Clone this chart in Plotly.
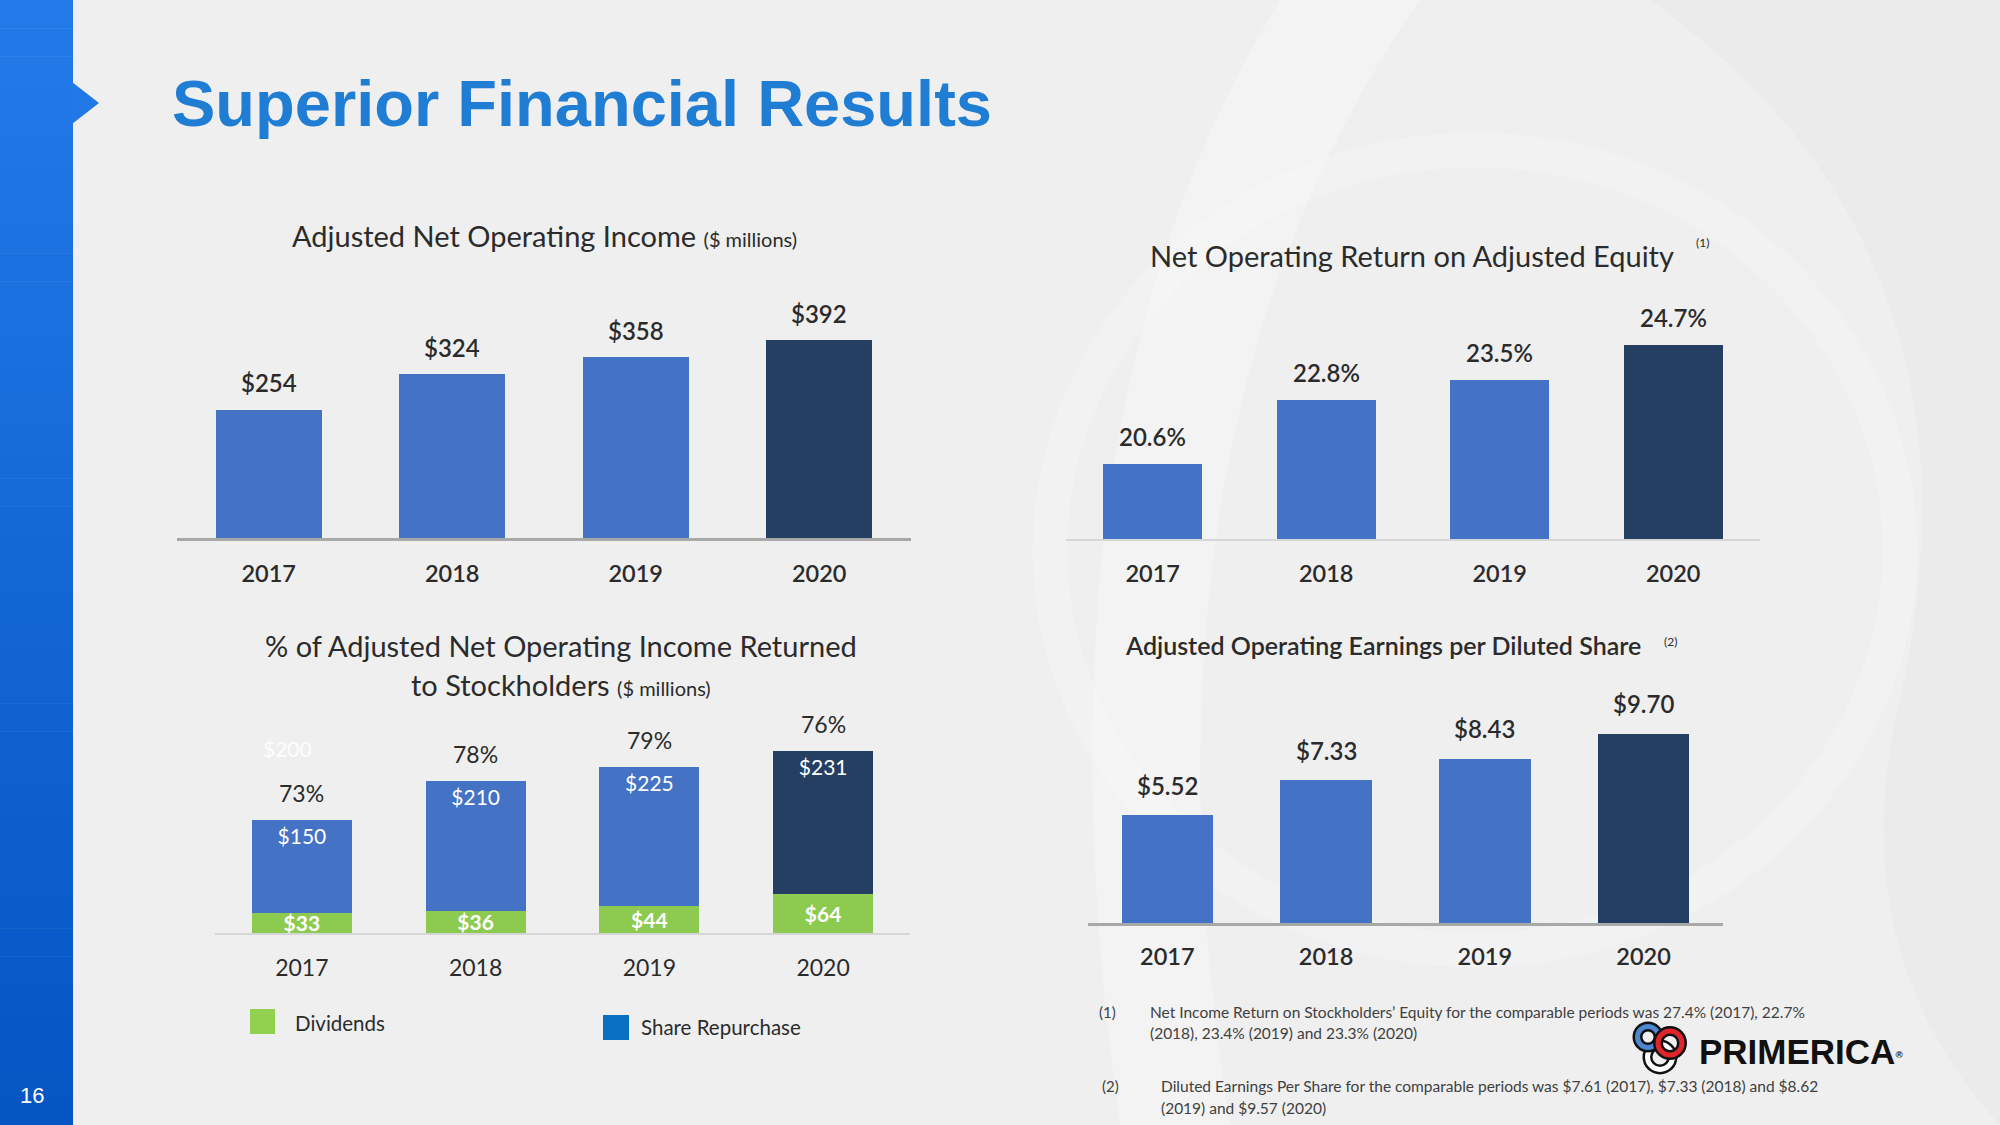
import plotly.graph_objects as go

# ---------------- data ----------------
years = ["2017", "2018", "2019", "2020"]
net_income = [254, 324, 358, 392]                 # $ millions
roe = [20.6, 22.8, 23.5, 24.7]                     # %
dividends = [33, 36, 44, 64]                       # $ millions
repurchase = [150, 210, 225, 231]                  # $ millions
pct_returned = [73, 78, 79, 76]                    # %
eps = [5.52, 7.33, 8.43, 9.70]                     # $

net_income_labels = [f"${v}" for v in net_income]
roe_labels = [f"{v:.1f}%" for v in roe]
dividend_labels = [f"${v}" for v in dividends]
repurchase_labels = [f"${v}" for v in repurchase]
pct_labels = [f"{v}%" for v in pct_returned]
eps_labels = [f"${v:.2f}" for v in eps]

# ---------------- style ----------------
W, H = 2000, 1125
BLUE = "#4472C4"
DARK = "#253F62"
GREEN = "#8DCB50"
LEG_BLUE = "#0A70C2"
BG = "#EFEFEF"
TXT = "#2B2B2B"
LATO = "Lato, Carlito, 'Open Sans', sans-serif"
ARIAL = "'Liberation Sans', Arial, sans-serif"
bar_colors = [BLUE, BLUE, BLUE, DARK]


def px(x):
    return x / W


def py(y):
    return 1 - y / H


fig = go.Figure()

# chart 1: Adjusted Net Operating Income
fig.add_trace(go.Bar(x=years, y=net_income, marker=dict(color=bar_colors, line=dict(width=0)),
                     width=0.578, xaxis="x", yaxis="y", showlegend=False, hoverinfo="skip"))
# chart 2: Net Operating Return on Adjusted Equity
fig.add_trace(go.Bar(x=years, y=roe, marker=dict(color=bar_colors, line=dict(width=0)),
                     width=0.57, xaxis="x2", yaxis="y2", showlegend=False, hoverinfo="skip"))
# chart 3: returned to stockholders (stacked)
fig.add_trace(go.Bar(x=years, y=dividends, marker=dict(color=GREEN, line=dict(width=0)),
                     width=0.576, xaxis="x3", yaxis="y3", showlegend=False, hoverinfo="skip",
                     text=dividend_labels, textposition="inside", insidetextanchor="middle",
                     constraintext="none",
                     textfont=dict(family=LATO, size=21, color="white", weight=700)))
fig.add_trace(go.Bar(x=years, y=repurchase, marker=dict(color=bar_colors, line=dict(width=0)),
                     width=0.576, xaxis="x3", yaxis="y3", showlegend=False, hoverinfo="skip",
                     text=repurchase_labels, textposition="inside", insidetextanchor="end",
                     constraintext="none",
                     textfont=dict(family=LATO, size=21, color="white")))
# chart 4: EPS
fig.add_trace(go.Bar(x=years, y=eps, marker=dict(color=bar_colors, line=dict(width=0)),
                     width=0.575, xaxis="x4", yaxis="y4", showlegend=False, hoverinfo="skip"))

annotations = []


def value_labels(xref, yref, values, labels, shift, size, weight):
    for i, (v, t) in enumerate(zip(values, labels)):
        annotations.append(dict(x=i, y=v, xref=xref, yref=yref, text=t, showarrow=False,
                                yshift=shift, yanchor="middle",
                                font=dict(family=LATO, size=size, color=TXT, weight=weight)))


value_labels("x", "y", net_income, net_income_labels, 27, 24, 600)
value_labels("x2", "y2", roe, roe_labels, 27, 24, 600)
totals = [d + r for d, r in zip(dividends, repurchase)]
value_labels("x3", "y3", totals, pct_labels, 27, 23, 400)
value_labels("x4", "y4", eps, eps_labels, 30, 24, 600)


def text(x, y, t, size, color=TXT, family=LATO, weight=400, xanchor="center"):
    annotations.append(dict(x=px(x), y=py(y), xref="paper", yref="paper", text=t,
                            showarrow=False, xanchor=xanchor, yanchor="middle",
                            font=dict(family=family, size=size, color=color, weight=weight)))


# main title
text(170, 103, "Superior Financial Results", 65, color="#1F7DD4", family=ARIAL,
     weight=700, xanchor="left")
# chart titles
text(544, 235, "Adjusted Net Operating Income <span style='font-size:20px'>($ millions)</span>", 29)
text(1412, 255, "Net Operating Return on Adjusted Equity", 29)
text(1702, 243, "(1)", 12)
text(561, 645, "% of Adjusted Net Operating Income Returned", 29)
text(561, 684, "to Stockholders <span style='font-size:20px'>($ millions)</span>", 29)
text(1383, 645, "Adjusted Operating Earnings per Diluted Share", 25, weight=600)
text(1670, 641, "(2)", 12)
# stray faint label
text(287, 748, "$200", 21, color="rgba(255,255,255,0.9)")
# legend
text(293, 1023, "Dividends", 20.5, xanchor="left")
text(639, 1027, "Share Repurchase", 20.5, xanchor="left")
# footnotes
FN = "#404040"
text(1107, 1012, "(1)", 15, color=FN)
text(1148, 1012, "Net Income Return on Stockholders’ Equity for the comparable periods was 27.4% (2017), 22.7%",
     15.5, color=FN, xanchor="left")
text(1148, 1033, "(2018), 23.4% (2019) and 23.3% (2020)", 15.5, color=FN, xanchor="left")
text(1110, 1086, "(2)", 15, color=FN)
text(1159, 1086, "Diluted Earnings Per Share for the comparable periods was $7.61 (2017), $7.33 (2018) and $8.62",
     15.5, color=FN, xanchor="left")
text(1159, 1108, "(2019) and $9.57 (2020)", 15.5, color=FN, xanchor="left")
# logo text
text(1697, 1051, "PRIMERICA<span style='font-size:14px'><sup>®</sup></span>", 35,
     color="#111111", family=ARIAL, weight=700, xanchor="left")
# page number
text(32, 1095, "16", 22, color="white", family=ARIAL)

# ---------------- shapes ----------------
shapes = []
# faint background swooshes
shapes.append(dict(type="path", xref="paper", yref="paper", layer="below",
                   path=f"M {px(1280)} {py(0)} Q {px(1020)} {py(420)} {px(1120)} {py(1125)} "
                        f"L {px(1230)} {py(1125)} Q {px(1120)} {py(430)} {px(1420)} {py(0)} Z",
                   fillcolor="rgba(255,255,255,0.25)", line=dict(width=0)))
shapes.append(dict(type="path", xref="paper", yref="paper", layer="below",
                   path=f"M {px(1650)} {py(0)} Q {px(2000)} {py(250)} {px(1900)} {py(700)} "
                        f"Q {px(1840)} {py(950)} {px(2000)} {py(1125)} L {px(2000)} {py(0)} Z",
                   fillcolor="rgba(225,225,225,0.3)", line=dict(width=0)))
shapes.append(dict(type="circle", xref="paper", yref="paper", layer="below",
                   x0=px(1050), x1=px(1900), y0=py(950), y1=py(150),
                   fillcolor="rgba(0,0,0,0)", line=dict(color="rgba(255,255,255,0.18)", width=35)))
# sidebar gradient
n = 40
c0 = (0x22, 0x7A, 0xE8)
c1 = (0x05, 0x55, 0xC3)
for i in range(n):
    t = i / (n - 1)
    c = tuple(int(round(a + (b - a) * t)) for a, b in zip(c0, c1))
    shapes.append(dict(type="rect", xref="paper", yref="paper", x0=0, x1=px(73),
                       y0=py(H * (i + 1) / n + 0.5), y1=py(H * i / n),
                       fillcolor="rgb(%d,%d,%d)" % c, line=dict(width=0), layer="below"))
shapes.append(dict(type="path", xref="paper", yref="paper",
                   path=f"M {px(72)} {py(82)} L {px(99)} {py(103)} L {px(72)} {py(124)} Z",
                   fillcolor="#2178E6", line=dict(width=0), layer="below"))
# legend swatches
shapes.append(dict(type="rect", xref="paper", yref="paper", x0=px(250), x1=px(275),
                   y0=py(1034), y1=py(1009), fillcolor="#92D050", line=dict(width=0)))
shapes.append(dict(type="rect", xref="paper", yref="paper", x0=px(603), x1=px(629),
                   y0=py(1040), y1=py(1015), fillcolor=LEG_BLUE, line=dict(width=0)))


# logo rings
def ring(cx, cy, r, color):
    for w, col in ((10, "#111111"), (5, color)):
        shapes.append(dict(type="circle", xref="paper", yref="paper",
                           x0=px(cx - r), x1=px(cx + r), y0=py(cy + r), y1=py(cy - r),
                           line=dict(color=col, width=w), fillcolor="rgba(0,0,0,0)"))


ring(1660, 1057, 12.5, "#FFFFFF")
ring(1648, 1037, 10.5, "#4F86D0")
ring(1670, 1043, 12, "#E0242C")

# ---------------- layout ----------------
def xax(domain, linecolor, linewidth, anchor, size, weight, standoff):
    return dict(domain=domain, anchor=anchor, type="category", range=[-0.5, 3.5],
                showline=True, linecolor=linecolor, linewidth=linewidth, showgrid=False,
                zeroline=False, ticks="", ticklabelstandoff=standoff, fixedrange=True,
                tickfont=dict(family=LATO, size=size, color=TXT, weight=weight))


def yax(domain, rng, anchor):
    return dict(domain=domain, anchor=anchor, range=rng, visible=False, showgrid=False,
                zeroline=False, fixedrange=True)


fig.update_layout(
    width=W, height=H, margin=dict(l=0, r=0, t=0, b=0),
    paper_bgcolor=BG, plot_bgcolor="rgba(0,0,0,0)", barmode="stack", showlegend=False,
    xaxis=xax([px(177), px(911)], "#A8A8A8", 3, "y", 23.5, 600, 13),
    yaxis=yax([py(538), py(310.75)], [0, 450], "x"),
    xaxis2=xax([px(1066), px(1760)], "#D6D6D6", 1.5, "y2", 23.5, 600, 13),
    yaxis2=yax([py(539), py(307)], [18, 26], "x2"),
    xaxis3=xax([px(215), px(910)], "#D6D6D6", 2, "y3", 23, 400, 13),
    yaxis3=yax([py(933), py(717)], [0, 350], "x3"),
    xaxis4=xax([px(1088), px(1723)], "#A8A8A8", 3, "y4", 23.5, 600, 11),
    yaxis4=yax([py(923), py(708.5)], [0, 11], "x4"),
    annotations=annotations, shapes=shapes,
)

fig.write_html(
    "out.html",
    config={"displayModeBar": False},
    post_script="document.body.style.margin='0';document.body.style.padding='0';"
                "document.body.style.overflow='hidden';",
)
